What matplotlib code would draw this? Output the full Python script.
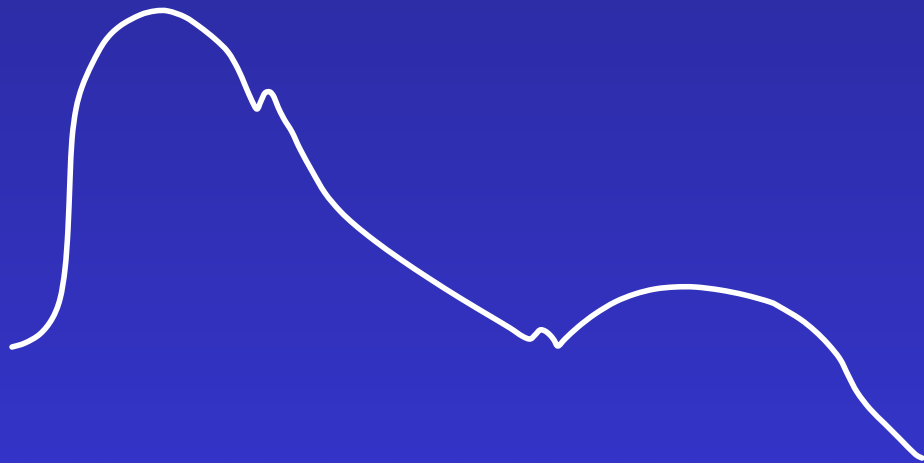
import numpy as np
import matplotlib
matplotlib.use("Agg")
import matplotlib.pyplot as plt
from matplotlib.path import Path
from matplotlib.patches import PathPatch

# curve (x to the right, y downward, pixel-like units)
xs = [12, 25, 40, 52, 60, 65, 68, 70, 72, 76, 82, 92, 105, 120, 140, 155, 168,
      185, 200, 215, 228, 238, 245, 252, 257, 261, 265, 270, 274, 278, 284, 292,
      300, 312, 325, 340, 355, 375, 400, 430, 460, 490, 510, 522, 530, 535, 540,
      545, 550, 554, 558, 565, 578, 595, 615, 635, 655, 675, 695, 720, 745, 770,
      780, 800, 815, 828, 840, 848, 857, 870, 885, 900, 915, 922]
ys = [348, 344, 335, 320, 300, 270, 230, 180, 140, 110, 88, 65, 42, 27, 16, 12, 12,
      18, 28, 40, 53, 70, 86, 102, 110, 102, 94, 93, 98, 108, 120, 133,
      150, 172, 194, 212, 226, 242, 260, 280, 299, 317, 329, 337, 340, 336, 331,
      332, 336, 341, 347, 340, 328, 315, 303, 295, 290, 288, 288, 291, 296, 303,
      308, 320, 332, 345, 360, 376, 393, 410, 425, 440, 455, 459]

fig = plt.figure(figsize=(9.24, 4.64), dpi=100)
ax = fig.add_axes([0, 0, 1, 1])

# vertical gradient background
top = np.array([45, 45, 168]) / 255
bottom = np.array([52, 52, 200]) / 255
t = np.linspace(0, 1, 256)[:, None]
grad = (top[None, :] * (1 - t) + bottom[None, :] * t)[:, None, :]
ax.imshow(grad, extent=[0, 924, 464, 0], aspect="auto", zorder=0)

# smooth line: catmull-rom segments as cubic bezier path
pts = np.column_stack([xs, ys]).astype(float)
verts = [pts[0]]
codes = [Path.MOVETO]
for i in range(len(pts) - 1):
    p0 = pts[max(i - 1, 0)]
    p1 = pts[i]
    p2 = pts[i + 1]
    p3 = pts[min(i + 2, len(pts) - 1)]
    verts += [p1 + (p2 - p0) / 6, p2 - (p3 - p1) / 6, p2]
    codes += [Path.CURVE4] * 3
ax.add_patch(PathPatch(Path(verts, codes), fill=False, edgecolor="white",
                       lw=4.0, capstyle="round", joinstyle="round", zorder=2))

ax.set_xlim(0, 924)
ax.set_ylim(464, 0)
ax.axis("off")

fig.savefig("out.png", dpi=100)
